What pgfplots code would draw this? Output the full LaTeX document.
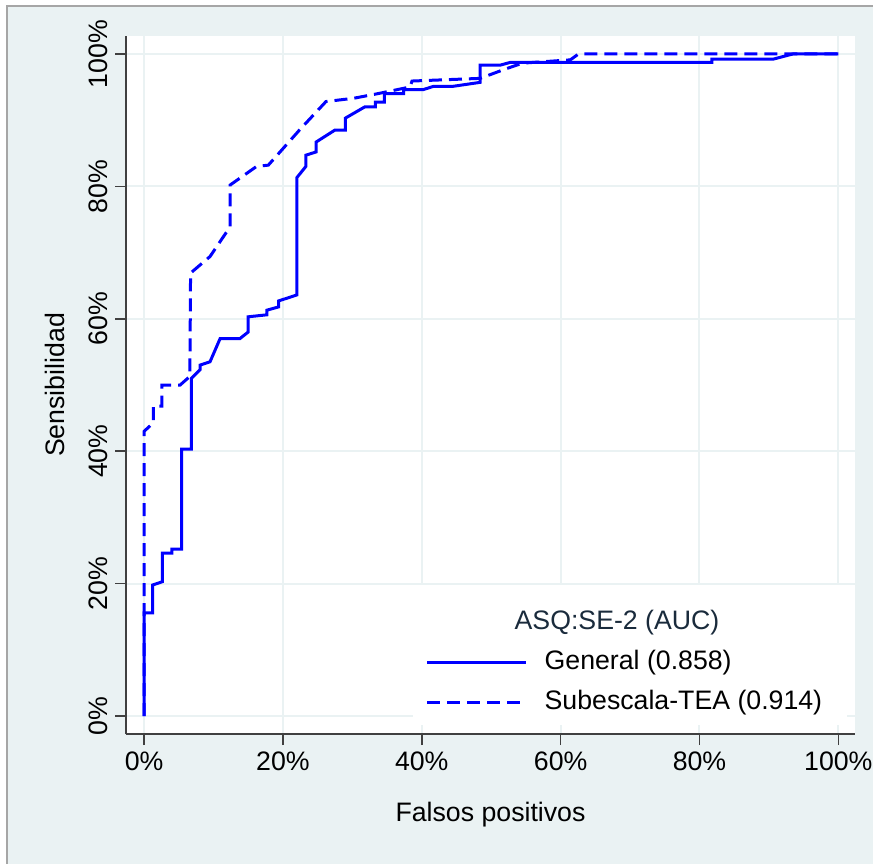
\documentclass[border=0pt]{standalone}
\usepackage{pgfplots}
\pgfplotsset{compat=1.18}
\usepackage{fontspec}
\setmainfont{Liberation Sans}
\definecolor{bgc}{HTML}{EAF2F3}
\definecolor{gridc}{HTML}{EAF2F3}
\definecolor{axc}{HTML}{404040}
\definecolor{roc}{HTML}{0000FF}
\definecolor{titc}{HTML}{1A2B3C}
\newcommand\fs{\fontsize{13.35}{16}\selectfont}

\begin{document}
\begin{tikzpicture}
\useasboundingbox (0,0) rectangle (436.5pt,432pt);
\fill[white] (0,0) rectangle (436.5pt,432pt);
\fill[bgc] (3.5pt,0) rectangle (436.5pt,429pt);
\draw[gray!70, line width=0.8pt] (3.5pt,0) -- (3.5pt,429pt) -- (436.5pt,429pt);
\begin{axis}[
  at={(63pt,65pt)}, anchor=south west,
  scale only axis, width=364.5pt, height=349pt,
  xmin=-2.6, xmax=102.4, ymin=-2.7, ymax=102.7,
  axis x line*=bottom, axis y line*=left,
  axis line style={axc, line width=0.75pt},
  axis background/.style={fill=white},
  tick align=outside, major tick length=5.5pt,
  tick style={axc, line width=0.75pt},
  grid=major, grid style={gridc, line width=1pt},
  xtick={0,20,40,60,80,100}, ytick={0,20,40,60,80,100},
  xticklabels={0\%,20\%,40\%,60\%,80\%,100\%},
  yticklabels={0\%,20\%,40\%,60\%,80\%,100\%},
  ticklabel style={font=\fs},
  yticklabel style={rotate=90, anchor=south},
  xlabel={Falsos positivos}, ylabel={Sensibilidad},
  label style={font=\fs},
  xlabel style={at={(axis description cs:0.5,-0.116)}, anchor=center},
  ylabel style={at={(axis description cs:-0.0974,0.5)}, anchor=center},
  legend style={at={(axis description cs:0.4105,0.1777)}, anchor=north west,
    draw=none, fill=none, inner sep=0pt, row sep=7.4pt, font=\fs,
    nodes={inner sep=0pt, text height=9.8pt, text depth=2.8pt}},
  legend cell align=left,
  legend image code/.code={\draw[#1] (0pt,0pt) -- (49.5pt,0pt); \path (58pt,0pt);},
]
\fill[white] (axis cs:38.8,-1.4) rectangle (axis cs:101.3,19.8);

\addlegendimage{legend image code/.code={}}
\addlegendentry{\hspace*{-15pt}\textcolor{titc}{ASQ:SE-2 (AUC)}}

% General
\addplot[roc, line width=1.5pt] coordinates {
(0,0) (0,15.6) (1.25,15.6) (1.25,19.8) (2.64,20.3) (2.64,24.6) (4.0,24.6)
(4.0,25.2) (5.4,25.2) (5.4,40.3) (6.8,40.3) (6.8,51.0) (8.07,52.3) (8.07,53.0)
(9.5,53.5) (10.95,57.0) (13.8,57.0) (15.0,58.0) (15.0,60.3) (17.7,60.6)
(17.7,61.3) (19.4,61.8) (19.4,62.7) (22.0,63.6) (22.0,81.3) (23.3,83.0)
(23.3,84.7) (24.8,85.2) (24.8,86.7) (27.5,88.5) (29.0,88.5) (29.0,90.3)
(31.8,92.0) (33.3,92.0) (33.3,92.7) (34.6,92.7) (34.6,94.0) (37.4,94.0)
(37.4,94.6) (40.2,94.6) (41.7,95.1) (44.5,95.1) (48.4,95.7) (48.4,98.3)
(51.3,98.3) (52.7,98.7) (81.8,98.7) (81.8,99.2) (90.6,99.2) (93.5,100) (100,100)
};
\addlegendentry{General (0.858)}

% Subescala-TEA
\addplot[roc, line width=1.5pt, dash pattern=on 6.5pt off 3.5pt] coordinates {
(0,0) (0,43.0) (1.35,44.3) (1.35,46.8) (2.55,46.8) (2.55,50.0) (5.2,50.0)
(6.6,51.3) (6.7,66.9) (9.5,69.4) (12.4,73.9) (12.4,80.2) (16.2,83.0)
(17.9,83.2) (22.3,88.4) (26.2,92.8) (30.2,93.3) (33.7,94.0) (38.3,95.0)
(38.6,95.9) (48.4,96.3) (52.0,97.7) (54.5,98.6) (61.4,99.1) (62.6,100) (100,100)
};
\addlegendentry{Subescala-TEA (0.914)}
\end{axis}
\end{tikzpicture}
\end{document}
